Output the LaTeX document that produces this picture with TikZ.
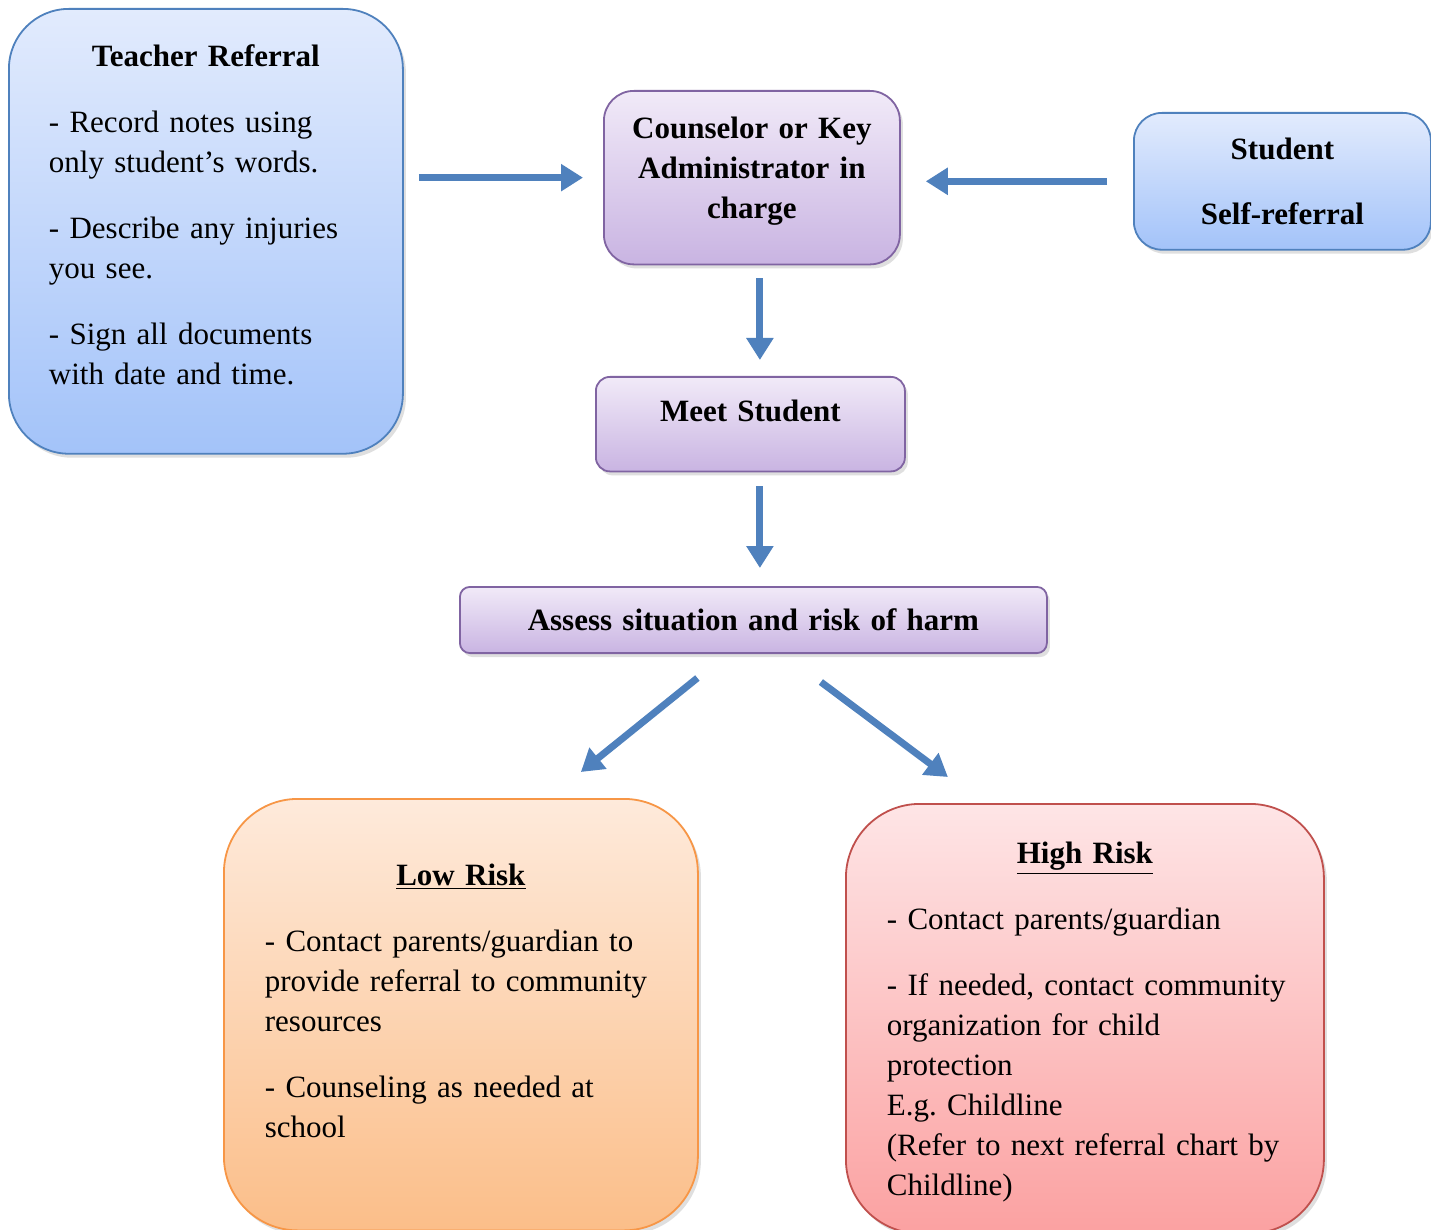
\documentclass[tikz,border=0pt]{standalone}
\usepackage{fontspec}
\setmainfont{Liberation Serif}
\usetikzlibrary{arrows.meta,shadows}

\definecolor{arrowblue}{HTML}{4F81BD}
\definecolor{bluebord}{HTML}{4F81BD}
\definecolor{bluetop}{HTML}{E2EBFD}
\definecolor{bluebot}{HTML}{A3C3F9}
\definecolor{purpbord}{HTML}{8064A2}
\definecolor{purptop}{HTML}{F1EAF8}
\definecolor{purpbot}{HTML}{C9B4E2}
\definecolor{orbord}{HTML}{F79646}
\definecolor{ortop}{HTML}{FEEADB}
\definecolor{orbot}{HTML}{FBBE89}
\definecolor{redbord}{HTML}{C0504D}
\definecolor{redtop}{HTML}{FEE5E6}
\definecolor{redbot}{HTML}{FBA1A1}

\frenchspacing
\newcommand{\cardfont}{\fontsize{15.5}{20}\selectfont\hyphenpenalty=10000}
\newcommand{\tailgap}[1]{\rule[-#1]{0pt}{#1}}

\begin{document}
\begin{tikzpicture}[x=0.5pt, y=-0.5pt,
    card/.style={rounded corners=#1, line width=0.9pt, anchor=north west,
      drop shadow={opacity=0.25, shadow xshift=1.5pt, shadow yshift=-2pt},
      font=\cardfont},
    bluecard/.style={card=#1, draw=bluebord, top color=bluetop, bottom color=bluebot},
    purplecard/.style={card=#1, draw=purpbord, top color=purptop, bottom color=purpbot},
    orangecard/.style={card=#1, draw=orbord, top color=ortop, bottom color=orbot},
    redcard/.style={card=#1, draw=redbord, top color=redtop, bottom color=redbot},
    flowarrow/.style={draw=arrowblue, line width=3.5pt, -{Triangle[length=11pt, width=13pt]}}]
  \fill[white] (0,0) rectangle (1431,1230);
  \useasboundingbox (0,0) rectangle (1431,1230);

  % referral sources
  \node[bluecard=30pt, text width=157pt, inner xsep=20pt, inner ysep=18pt, align=left] (teacher) at (8,8)
    {\makebox[\linewidth]{\bfseries Teacher Referral}\\[13pt]- Record notes using\\only student’s words.\\[13pt]- Describe any injuries\\you see.\\[13pt]- Sign all documents\\with date and time.\tailgap{16.5pt}};
  \node[bluecard=14pt, text width=130.5pt, inner xsep=9pt, inner ysep=12.5pt, align=center, font=\cardfont\bfseries] (student) at (1133,112)
    {Student\\[12.5pt]Self-referral};

  % main steps
  \node[purplecard=15pt, text width=130pt, inner xsep=9pt, inner ysep=13pt, align=center, font=\cardfont\bfseries] (counsel) at (603,90)
    {Counselor or Key\\Administrator in\\charge\tailgap{10pt}};
  \node[purplecard=7pt, text width=136.5pt, inner xsep=9pt, inner ysep=11.5pt, align=center, font=\cardfont\bfseries] (meet) at (595,376)
    {Meet Student\tailgap{13.5pt}};
  \node[purplecard=5pt, text width=275.5pt, inner xsep=9pt, inner ysep=11pt, align=center, font=\cardfont\bfseries] (assess) at (459,586)
    {Assess situation and risk of harm};

  % outcomes
  \node[orangecard=37pt, text width=196pt, inner xsep=20.5pt, inner ysep=32.5pt, align=left] (low) at (223,798)
    {\makebox[\linewidth]{\bfseries\underline{Low Risk}}\\[13pt]- Contact parents/guardian to\\\mbox{provide referral to community}\\resources\\[13pt]- Counseling as needed at\\school\tailgap{14pt}};
  \node[redcard=37pt, text width=198pt, inner xsep=20.5pt, inner ysep=19pt, align=left] (high) at (845,803)
    {\makebox[\linewidth]{\bfseries\underline{High Risk}}\\[13pt]- Contact parents/guardian\\[13pt]\mbox{- If needed, contact community}\\organization for child\\protection\\E.g. Childline\\\mbox{(Refer to next referral chart by}\\\smash{Childline)}};

  % arrows
  \draw[flowarrow, shorten <=7.5pt, shorten >=10pt] (teacher.east |- counsel.west) -- (counsel.west);
  \draw[flowarrow, shorten <=13pt, shorten >=12.5pt] (student.west) -- (counsel.east |- student.west);
  \draw[flowarrow, shorten <=6.5pt, shorten >=8pt] ([xshift=4pt]counsel.south) -- ([xshift=4pt]counsel.south |- meet.north);
  \draw[flowarrow, shorten <=7pt, shorten >=9pt] ([xshift=4.75pt]meet.south) -- ([xshift=4.75pt]meet.south |- assess.north);
  \draw[flowarrow] ([shift={(-56,24)}]assess.south) -- ([shift={(120,-26)}]low.north);
  \draw[flowarrow] ([shift={(67.5,28)}]assess.south) -- ([shift={(-137,-26)}]high.north);
\end{tikzpicture}
\end{document}
